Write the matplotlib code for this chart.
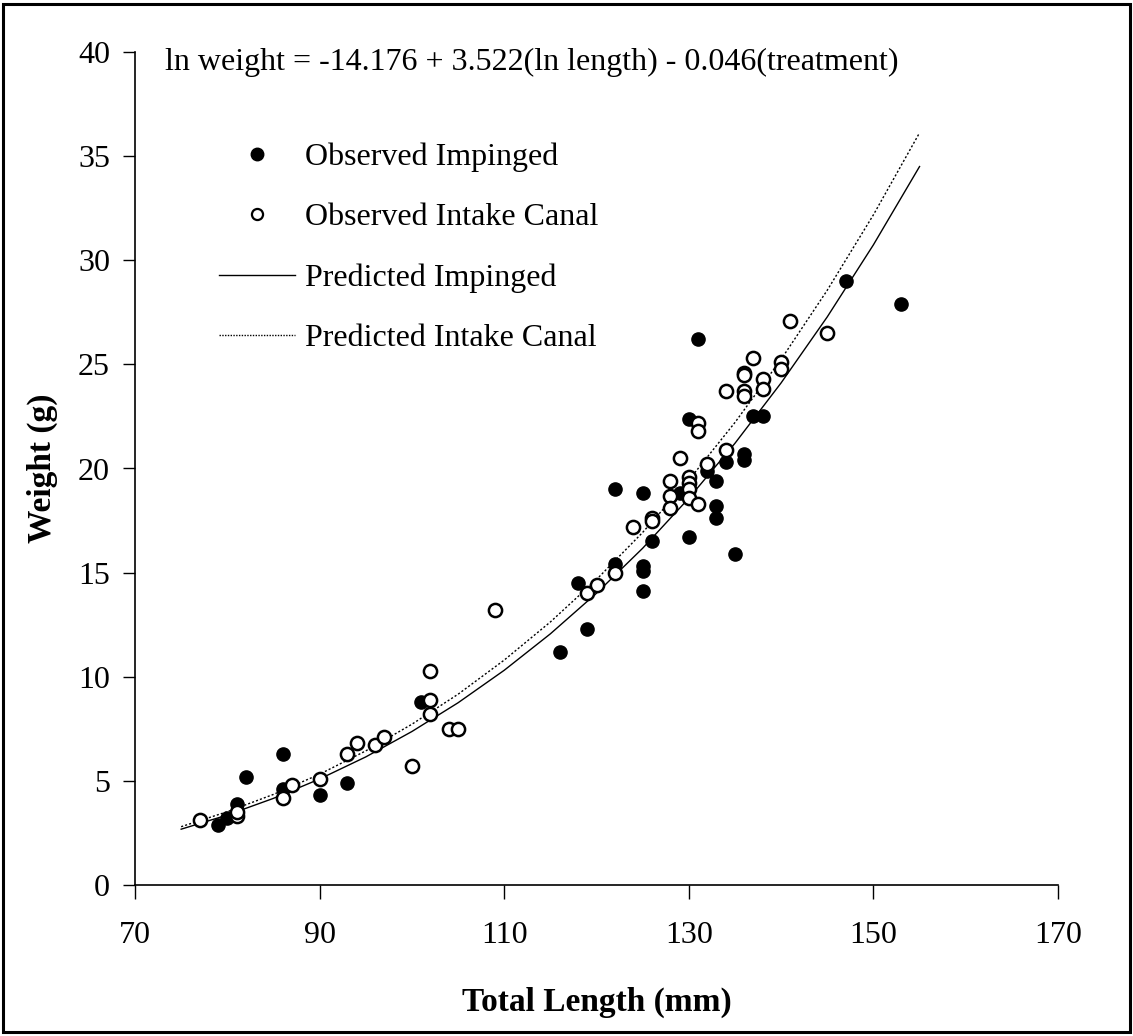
import matplotlib
matplotlib.use("Agg")
import matplotlib.pyplot as plt
from matplotlib.lines import Line2D
from matplotlib.patches import Rectangle

# Observed Impinged (filled)
imp_len = [79, 80, 81, 82, 86, 86, 90, 93, 101, 116, 118, 119, 122, 122, 125, 125, 125, 125,
           126, 129, 130, 130, 131, 132, 133, 133, 133, 134, 135, 136, 136, 137, 138, 147, 153]
imp_wt = [2.9, 3.2, 3.9, 5.2, 6.3, 4.6, 4.3, 4.9, 8.8, 11.2, 14.5, 12.3, 15.4, 19.0, 15.3, 15.1, 14.1, 18.8,
          16.5, 18.8, 16.7, 22.4, 26.2, 19.9, 19.4, 18.2, 17.6, 20.3, 15.9, 20.7, 20.4, 22.5, 22.5, 29.0, 27.9]

# Observed Intake Canal (open)
can_len = [77, 81, 81, 86, 87, 90, 93, 94, 96, 97, 100, 102, 102, 102, 104, 105, 109, 119, 120, 122,
           124, 126, 126, 128, 128, 128, 129, 130, 130, 130, 130, 131, 131, 131, 132, 134, 134,
           136, 136, 136, 136, 137, 138, 138, 140, 140, 141, 145]
can_wt = [3.1, 3.3, 3.5, 4.2, 4.8, 5.1, 6.3, 6.8, 6.7, 7.1, 5.7, 8.9, 10.3, 8.2, 7.5, 7.5, 13.2, 14.0, 14.4, 15.0,
          17.2, 17.6, 17.5, 19.4, 18.7, 18.1, 20.5, 19.6, 19.3, 19.0, 18.6, 22.2, 21.8, 18.3, 20.2, 23.7, 20.9,
          24.6, 24.5, 23.7, 23.5, 25.3, 24.3, 23.8, 25.1, 24.8, 27.1, 26.5]

# Predicted curves
pred_len = [75, 80, 85, 90, 95, 100, 105, 110, 115, 120, 125, 130, 135, 140, 145, 150, 155]
pred_imp = [2.68, 3.36, 4.16, 5.09, 6.15, 7.37, 8.75, 10.31, 12.06, 14.01, 16.17, 18.57, 21.21, 24.11, 27.28, 30.74, 34.50]
pred_can = [2.80, 3.52, 4.35, 5.32, 6.44, 7.72, 9.16, 10.80, 12.63, 14.67, 16.93, 19.44, 22.21, 25.24, 28.56, 32.18, 36.12]

x_ticks = [70, 90, 110, 130, 150, 170]
y_ticks = [0, 5, 10, 15, 20, 25, 30, 35, 40]

plt.rcParams['font.family'] = ['Liberation Serif', 'DejaVu Serif']

W, H = 1133, 1036
fig = plt.figure(figsize=(W / 100, H / 100), dpi=100)
fig.patches.append(Rectangle((3 / W, 4 / H), (W - 6) / W, (H - 8) / H, transform=fig.transFigure,
                             fill=False, edgecolor='black', linewidth=2.2))

left, right, top, bottom = 135, 1058, 52, 885
ax = fig.add_axes([left / W, 1 - bottom / H, (right - left) / W, (bottom - top) / H])

ax.plot(pred_len, pred_imp, color='black', lw=1.0, label='Predicted Impinged')
ax.plot(pred_len, pred_can, color='black', lw=1.0, linestyle=(0, (1.5, 1.5)), label='Predicted Intake Canal')
ax.plot(imp_len, imp_wt, 'o', color='black', markersize=9.5, label='Observed Impinged', zorder=3)
ax.plot(can_len, can_wt, 'o', markerfacecolor='white', markeredgecolor='black', markeredgewidth=1.8,
        markersize=9.5, label='Observed Intake Canal', zorder=3)

ax.set_xlim(70, 170)
ax.set_ylim(0, 40)
ax.set_xticks(x_ticks)
ax.set_yticks(y_ticks)
for s in ['top', 'right']:
    ax.spines[s].set_visible(False)
for s in ['left', 'bottom']:
    ax.spines[s].set_linewidth(1.2)
ax.tick_params(axis='x', direction='out', length=10, width=1.0, pad=16, labelsize=23)
ax.tick_params(axis='y', direction='out', length=9, width=1.0, pad=9, labelsize=23)

ax.set_xlabel('Total Length (mm)', fontsize=24, fontweight='bold')
ax.xaxis.set_label_coords(0.5005, -0.122)
ax.set_ylabel('Weight (g)', fontsize=24, fontweight='bold')
ax.yaxis.set_label_coords(-0.0835, 0.5)

fig.text(165 / W, 1 - 62 / H, 'ln weight = -14.176 + 3.522(ln length) - 0.046(treatment)',
         fontsize=23, va='center', ha='left')

handles = [
    Line2D([], [], marker='o', color='black', linestyle='none', markersize=9),
    Line2D([], [], marker='o', markerfacecolor='white', markeredgecolor='black', markeredgewidth=1.6,
           linestyle='none', markersize=8),
    Line2D([], [], color='black', lw=1.0),
    Line2D([], [], color='black', lw=1.0, linestyle=(0, (1, 1))),
]
labels = ['Observed Impinged', 'Observed Intake Canal', 'Predicted Impinged', 'Predicted Intake Canal']
leg = ax.legend(handles, labels, loc='upper left', bbox_to_anchor=((219 - 10 - left) / (right - left), (bottom - 133) / (bottom - top)),
                frameon=False, fontsize=23, handlelength=2.4, handletextpad=0.3, labelspacing=0.97,
                borderaxespad=0, borderpad=0.3)

fig.savefig('out.png', dpi=100)
